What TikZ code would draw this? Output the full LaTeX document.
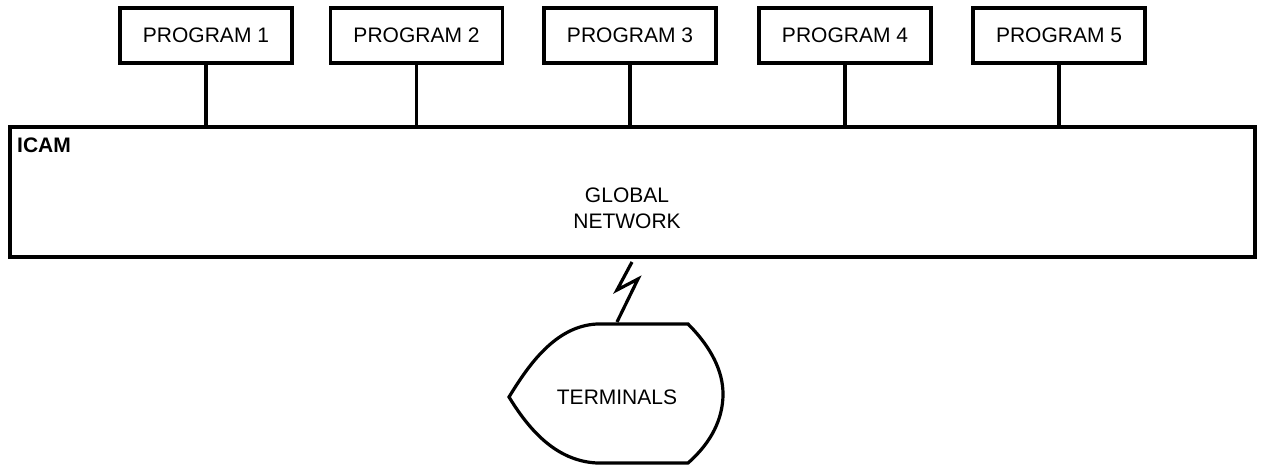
\documentclass[tikz,border=0pt]{standalone}
\usepackage{fontspec}
\setmainfont{Liberation Sans}
\begin{document}
\begin{tikzpicture}[x=1pt,y=-1pt,
  every node/.style={font=\fontsize{21}{26}\selectfont, inner sep=0pt},
  prog/.style={draw, line width=3.2pt, minimum width=172pt, minimum height=55pt},
  link/.style={line width=3.2pt},
  outline/.style={line width=3.2pt, line join=miter}]
\useasboundingbox (0,0) rectangle (1264,466);
% program boxes
\node[prog] (p1) at (206,35.5) {PROGRAM 1};
\node[prog] (p2) at (416.5,35.5) {PROGRAM 2};
\node[prog] (p3) at (630,35.5) {PROGRAM 3};
\node[prog] (p4) at (845,35.5) {PROGRAM 4};
\node[prog] (p5) at (1059,35.5) {PROGRAM 5};
% global network
\node[draw, line width=3.2pt, minimum width=1245pt, minimum height=130pt] (net) at (632.5,192) {};
\node[anchor=west, font=\fontsize{21}{26}\selectfont\bfseries] (icam) at (17,145) {ICAM};
\node[align=center] (glob) at (627,208) {GLOBAL\\NETWORK};
% connectors
\foreach \p in {p1,p2,p3,p4,p5}
  \draw[link] (\p.south) -- (\p.south |- net.north);
% terminals
\node (term) at (617,397) {TERMINALS};
\draw[outline] (597,324) -- (688,324)
  .. controls (712,348) and (723,372) .. (723,394)
  .. controls (723,418) and (712,442) .. (688,463)
  -- (597,463)
  .. controls (555,461) and (528,428) .. (509,397)
  .. controls (528,366) and (555,326) .. (597,324) -- cycle;
% lightning link
\coordinate (b1) at (632,262);
\coordinate (b2) at (617,290);
\coordinate (b3) at (638,279);
\coordinate (b4) at (617,322);
\draw[line width=3.2pt, line join=miter] (b1) -- (b2) -- (b3) -- (b4);
\end{tikzpicture}
\end{document}
